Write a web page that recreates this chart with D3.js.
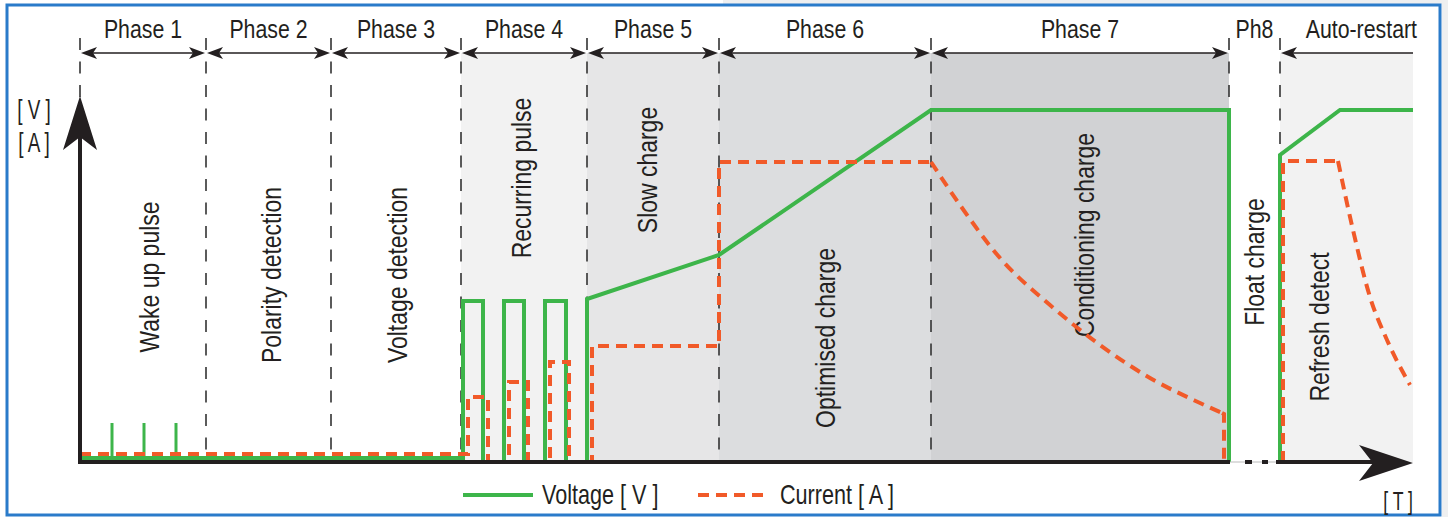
<!DOCTYPE html>
<html>
<head>
<meta charset="utf-8">
<script src="https://cdn.jsdelivr.net/npm/d3@7"></script>
<style>
  html, body { margin: 0; padding: 0; background: #fff; }
  svg { display: block; }
  text { font-family: 'Liberation Sans', Arial, sans-serif; fill: #231f20; }
</style>
</head>
<body>
<script>
// time runs 0..1333 (arbitrary units), level runs 0..100
const phaseNames = ['Phase 1', 'Phase 2', 'Phase 3', 'Phase 4', 'Phase 5', 'Phase 6', 'Phase 7', 'Ph8', 'Auto-restart'];
const phaseBounds = [0, 126, 251, 381, 507, 639, 851, 1149, 1200, 1333];
const phaseNotes = ['Wake up pulse', 'Polarity detection', 'Voltage detection', 'Recurring pulse', 'Slow charge',
  'Optimised charge', 'Conditioning charge', 'Float charge', 'Refresh detect'];

const wakeSpikes = [32, 64, 96];
const wakeSpikeLevel = 9.75;
const voltageBase = 1;

const voltage = [[0, 1], [383, 1], [383, 40.25], [403, 40.25], [403, 0], [424, 0], [424, 40.25], [444, 40.25],
  [444, 0], [465, 0], [465, 40.25], [486, 40.25], [486, 0], [507, 0], [507, 40.75], [639, 51.75],
  [851, 88], [1149, 88], [1149, 0]];
const voltageRestart = [[1200, 0], [1200, 76.75], [1260, 88], [1333, 88]];

const current = [[0, 2], [388, 2], [388, 16.25], [408, 16.25], [408, 0], [429, 0], [429, 20], [448, 20],
  [448, 0], [470, 0], [470, 25], [489, 25], [489, 0], [512, 0], [512, 29], [639, 29], [639, 75], [851, 75]];
const currentDecay = [[851, 75], [880, 64.25], [920, 51], [970, 39.25], [1020, 29.25], [1070, 21], [1120, 14.75], [1142, 12.25]];
const currentDecayEnd = [[1142, 12.25], [1144, 12], [1144, 0]];
const currentRestart = [[1203, 0], [1203, 75.25], [1258, 75.25]];
const currentRestartDecay = [[1258, 75.25], [1273, 58], [1290, 41.25], [1307, 30.5], [1330, 19.25]];

const legendItems = ['Voltage [ V ]', 'Current [ A ]'];

const w = 1448, h = 517;
const green = '#3db54a', orange = '#f15a29', ink = '#231f20';
const bandFill = ['#fff', '#fff', '#fff', '#f2f2f2', '#e6e6e7', '#dcdddf', '#d1d2d4', '#fff', '#f2f2f2'];
const noteY = [277, 275, 275, 178, 170, 338, 235, 262, 327];
const noteX = [150, 272, 398, 522, 648, 826, 1085, 1255, 1320];

const x = d3.scaleLinear().domain([0, 1333]).range([80, 1413]);
const y = d3.scaleLinear().domain([0, 100]).range([462, 62]);
const arrowY = 53, axisY = y(0);

const svg = d3.select('body').append('svg')
  .attr('width', w)
  .attr('height', h);

// condensed look: squeeze the glyphs horizontally
function say(g, px, py, str, size, anchor, sx = 0.82, rot = 0) {
  return g.append('text')
    .attr('transform', `translate(${px},${py}) rotate(${rot}) scale(${sx},1)`)
    .attr('text-anchor', anchor)
    .attr('font-size', size)
    .text(str);
}

// frame
svg.append('rect').attr('x', 723).attr('y', 0).attr('width', w - 723).attr('height', 4).attr('fill', '#eeeff0');
svg.append('rect').attr('x', 1442).attr('y', 0).attr('width', 6).attr('height', h).attr('fill', '#eeeff0');
svg.append('rect')
  .attr('x', 7).attr('y', 5).attr('width', 1433).attr('height', 510)
  .attr('fill', '#fff').attr('stroke', '#2a7bca').attr('stroke-width', 3);

// phase shading
const phases = phaseNames.map((name, i) => ({name, t0: phaseBounds[i], t1: phaseBounds[i + 1], i}));
svg.append('g').selectAll('rect')
  .data(phases)
  .join('rect')
  .attr('x', d => x(d.t0))
  .attr('y', arrowY)
  .attr('width', d => x(d.t1) - x(d.t0))
  .attr('height', axisY - arrowY)
  .attr('fill', d => bandFill[d.i]);

// dashed phase boundaries
const boundEnd = t => t === 1149 ? y(88) - 2 : t === 1200 ? y(76.75) - 6 : axisY;
svg.append('g').selectAll('line')
  .data(phaseBounds.slice(0, 9))
  .join('line')
  .attr('x1', d => x(d)).attr('x2', d => x(d))
  .attr('y1', 38).attr('y2', d => boundEnd(d))
  .attr('stroke', '#333').attr('stroke-width', 1.6)
  .attr('stroke-dasharray', '12 11.5');

// phase arrows
const head = (tipX, dir) => {
  const L = 16, H = 6, N = 12;
  return `M${tipX},${arrowY}L${tipX + dir * L},${arrowY - H}L${tipX + dir * N},${arrowY}L${tipX + dir * L},${arrowY + H}Z`;
};
const arrows = svg.append('g');
phases.forEach(d => {
  if (d.name === 'Ph8') return;
  const a = x(d.t0) + 1, b = x(d.t1) - 1;
  arrows.append('line').attr('x1', a + 4).attr('x2', d.name === 'Auto-restart' ? b + 1 : b - 4)
    .attr('y1', arrowY).attr('y2', arrowY).attr('stroke', ink).attr('stroke-width', 1.6);
  arrows.append('path').attr('d', head(a, 1)).attr('fill', ink);
  if (d.name !== 'Auto-restart') arrows.append('path').attr('d', head(b, -1)).attr('fill', ink);
});

const phaseLabels = svg.append('g');
phases.forEach(d => {
  if (d.name === 'Auto-restart') say(phaseLabels, x(d.t1) + 4, 38, d.name, 26, 'end');
  else say(phaseLabels, (x(d.t0) + x(d.t1)) / 2, 38, d.name, 26, 'middle');
});

// rotated notes
const notes = svg.append('g');
phaseNotes.forEach((d, i) => {
  say(notes, noteX[i] + 9, noteY[i], d, 28, 'middle', 0.82, -90);
});

// series
const line = d3.line().x(d => x(d[0])).y(d => y(d[1]));
const smooth = d3.line().x(d => x(d[0])).y(d => y(d[1])).curve(d3.curveMonotoneX);

svg.append('g').selectAll('line')
  .data(wakeSpikes)
  .join('line')
  .attr('x1', d => x(d)).attr('x2', d => x(d))
  .attr('y1', y(voltageBase)).attr('y2', y(wakeSpikeLevel))
  .attr('stroke', green).attr('stroke-width', 3);

[voltage, voltageRestart].forEach(s => {
  svg.append('path').attr('d', line(s))
    .attr('fill', 'none').attr('stroke', green).attr('stroke-width', 4)
    .attr('stroke-linejoin', 'miter');
});

[[current, line], [currentDecay, smooth], [currentDecayEnd, line], [currentRestart, line], [currentRestartDecay, smooth]]
  .forEach(([s, gen]) => {
    svg.append('path').attr('d', gen(s))
      .attr('fill', 'none').attr('stroke', orange).attr('stroke-width', 4)
      .attr('stroke-dasharray', '11 7');
  });

// axes
const axes = svg.append('g');
axes.append('line').attr('x1', x(0)).attr('x2', x(1149) + 1).attr('y1', axisY).attr('y2', axisY)
  .attr('stroke', ink).attr('stroke-width', 4);
axes.append('line').attr('x1', x(1149) + 1).attr('x2', x(1197)).attr('y1', axisY).attr('y2', axisY)
  .attr('stroke', '#bbb').attr('stroke-width', 1);
axes.append('line').attr('x1', x(1149) + 1).attr('x2', x(1197)).attr('y1', axisY).attr('y2', axisY)
  .attr('stroke', ink).attr('stroke-width', 4).attr('stroke-dasharray', '0 15 7 10 6 100');
axes.append('line').attr('x1', x(1196)).attr('x2', x(1300)).attr('y1', axisY).attr('y2', axisY)
  .attr('stroke', ink).attr('stroke-width', 4);
axes.append('path')
  .attr('d', `M${x(1333)},${axisY + 1}L${x(1279)},${axisY - 17}L${x(1293)},${axisY + 1}L${x(1279)},${axisY + 19}Z`)
  .attr('fill', ink);
axes.append('line').attr('x1', x(0)).attr('x2', x(0)).attr('y1', axisY + 2).attr('y2', 130)
  .attr('stroke', ink).attr('stroke-width', 4);
axes.append('path')
  .attr('d', `M${x(0)},96L${x(0) - 17},150L${x(0)},137L${x(0) + 17},150Z`)
  .attr('fill', ink);

const units = svg.append('g');
say(units, 34, 119, '[ V ]', 27, 'middle', 0.7);
say(units, 34, 152, '[ A ]', 27, 'middle', 0.7);
say(units, x(1333), 510, '[ T ]', 26, 'end', 0.68);

// legend
const legend = svg.append('g');
legend.append('line').attr('x1', 463).attr('x2', 533).attr('y1', 495).attr('y2', 495)
  .attr('stroke', green).attr('stroke-width', 4);
say(legend, 542, 504, legendItems[0], 27, 'start', 0.8);
legend.append('line').attr('x1', 698).attr('x2', 765).attr('y1', 495).attr('y2', 495)
  .attr('stroke', orange).attr('stroke-width', 4).attr('stroke-dasharray', '11 7');
say(legend, 780, 504, legendItems[1], 27, 'start', 0.8);
</script>
</body>
</html>
